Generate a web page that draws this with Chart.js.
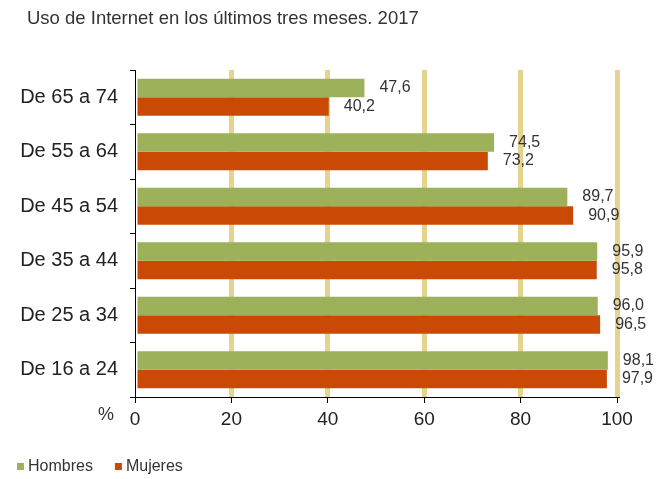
<!DOCTYPE html>
<html lang="es">
<head>
<meta charset="utf-8">
<title>Uso de Internet en los últimos tres meses. 2017</title>
<script src="https://cdn.jsdelivr.net/npm/chart.js@4.4.1/dist/chart.umd.min.js"></script>
<style>
  html, body { margin: 0; padding: 0; background: #fff; }
  canvas { display: block; }
</style>
</head>
<body>
<canvas id="grafico" width="659" height="479"></canvas>
<script>
const titulo = 'Uso de Internet en los últimos tres meses. 2017';
const edades = ['De 65 a 74', 'De 55 a 64', 'De 45 a 54', 'De 35 a 44', 'De 25 a 34', 'De 16 a 24'];
const hombres = [47.6, 74.5, 89.7, 95.9, 96.0, 98.1];
const mujeres = [40.2, 73.2, 90.9, 95.8, 96.5, 97.9];
const marcasX = [0, 20, 40, 60, 80, 100];

const fuente = '"Liberation Sans", Arial, sans-serif';
const colorTexto = '#333333';
const verde = '#9db15a';
const rojo = '#ca4a05';

// etiquetas de valor a la derecha de cada barra, con coma decimal
const etiquetasValor = {
  id: 'etiquetasValor',
  afterDatasetsDraw(chart) {
    const ctx = chart.ctx;
    ctx.save();
    ctx.font = '16px ' + fuente;
    ctx.fillStyle = colorTexto;
    ctx.textAlign = 'left';
    ctx.textBaseline = 'middle';
    chart.data.datasets.forEach((ds, i) => {
      chart.getDatasetMeta(i).data.forEach((barra, j) => {
        ctx.fillText(ds.data[j].toFixed(1).replace('.', ','), barra.x + 15, barra.y);
      });
    });
    ctx.restore();
  }
};

// titulo, simbolo % del eje y leyenda inferior
const extras = {
  id: 'extras',
  afterDraw(chart) {
    const ctx = chart.ctx;
    const ejeX = chart.scales.x;
    ctx.save();
    ctx.fillStyle = colorTexto;
    ctx.textBaseline = 'middle';
    ctx.textAlign = 'left';
    ctx.font = '18.5px ' + fuente;
    ctx.fillText(titulo, 27, 19);

    ctx.font = '18px ' + fuente;
    ctx.textAlign = 'center';
    ctx.fillText('%', ejeX.left - 29, ejeX.top + 18);

    ctx.font = '16px ' + fuente;
    ctx.textAlign = 'left';
    let x = 17;
    const y = 467;
    chart.data.datasets.forEach(ds => {
      ctx.fillStyle = ds.backgroundColor;
      ctx.fillRect(x, y - 4, 7, 7);
      ctx.fillStyle = colorTexto;
      ctx.fillText(ds.label, x + 11, y);
      x += 11 + ctx.measureText(ds.label).width + 22;
    });
    ctx.restore();
  }
};

new Chart(document.getElementById('grafico'), {
  type: 'bar',
  data: {
    labels: edades,
    datasets: [
      { label: 'Hombres', data: hombres, backgroundColor: verde },
      { label: 'Mujeres', data: mujeres, backgroundColor: rojo }
    ]
  },
  options: {
    indexAxis: 'y',
    responsive: false,
    animation: false,
    devicePixelRatio: 1,
    categoryPercentage: 0.68,
    barPercentage: 1.0,
    layout: { padding: { top: 70, left: 18, right: 42, bottom: 0 } },
    plugins: {
      legend: { display: false },
      title: { display: false },
      tooltip: { enabled: false }
    },
    scales: {
      x: {
        min: 0,
        max: 100,
        afterBuildTicks: scale => { scale.ticks = marcasX.map(v => ({ value: v })); },
        afterFit: scale => { scale.height = 82; },
        grid: {
          color: c => (c.tick && c.tick.value === 0) ? 'rgba(0,0,0,0)' : '#e6d38c',
          lineWidth: 5,
          tickColor: '#000',
          tickWidth: 1,
          tickLength: 6
        },
        border: { display: true, color: '#000', width: 1 },
        ticks: { color: '#222', padding: 5, font: { size: 19, family: fuente } }
      },
      y: {
        afterFit: scale => { scale.width = 117; },
        grid: {
          drawOnChartArea: false,
          offset: true,
          color: '#000',
          tickColor: '#000',
          tickWidth: 1,
          tickLength: 5
        },
        border: { display: true, color: '#000', width: 1 },
        ticks: { color: '#222', padding: 12, font: { size: 20, family: fuente } }
      }
    }
  },
  plugins: [etiquetasValor, extras]
});
</script>
</body>
</html>
